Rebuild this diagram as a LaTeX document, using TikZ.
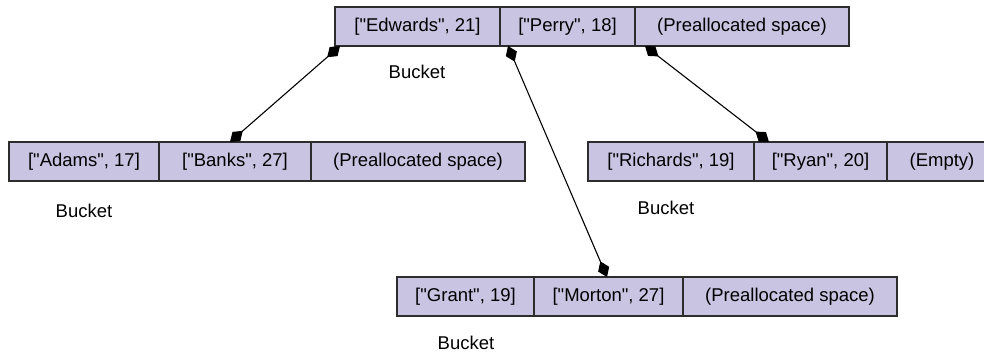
\documentclass[tikz,border=0pt]{standalone}
\usepackage{fontspec}
\setmainfont{Liberation Sans}[Ligatures=TeXOff]
\usetikzlibrary{arrows.meta, positioning}
\definecolor{slotfill}{RGB}{200,196,226}
\definecolor{slotline}{RGB}{45,45,45}

\begin{document}
\begin{tikzpicture}[x=1pt, y=-1pt,
  font=\fontsize{18.5}{22}\selectfont,
  slot/.style={draw=slotline, line width=1.3pt, fill=slotfill, minimum height=39pt,
    inner sep=0pt, outer sep=0pt, text height=1.25em, text depth=0.2em},
  link/.style={line width=1.1pt, {Diamond[length=17pt,width=12pt]}-{Diamond[length=17pt,width=12pt]}}]
  \useasboundingbox (0,0) rectangle (984,353);
  % root bucket
  \node[slot, minimum width=165pt, anchor=north west] (root1) at (335,7) {["Edwards", 21]};
  \node[slot, minimum width=135pt, right=0pt of root1] (root2) {["Perry", 18]};
  \node[slot, minimum width=214pt, right=0pt of root2] (root3) {(Preallocated space)};
  \node (rootlabel) at (417,72) {Bucket};
  % left bucket
  \node[slot, minimum width=150pt, anchor=north west] (left1) at (9,142) {["Adams", 17]};
  \node[slot, minimum width=152pt, right=0pt of left1] (left2) {["Banks", 27]};
  \node[slot, minimum width=214pt, right=0pt of left2] (left3) {(Preallocated space)};
  \node (leftlabel) at (84,211) {Bucket};
  % right bucket
  \node[slot, minimum width=166pt, anchor=north west] (right1) at (588,142) {["Richards", 19]};
  \node[slot, minimum width=133pt, right=0pt of right1] (right2) {["Ryan", 20]};
  \node[slot, minimum width=110pt, right=0pt of right2] (right3) {(Empty)};
  \node (rightlabel) at (666,208) {Bucket};
  % bottom bucket
  \node[slot, minimum width=137pt, anchor=north west] (bottom1) at (397,277) {["Grant", 19]};
  \node[slot, minimum width=149pt, right=0pt of bottom1] (bottom2) {["Morton", 27]};
  \node[slot, minimum width=214pt, right=0pt of bottom2] (bottom3) {(Preallocated space)};
  \node (bottomlabel) at (466,343) {Bucket};
  % links
  \draw[link] ([xshift=5pt]root1.south west) -- ([xshift=71pt]left2.north west);
  \draw[link] ([xshift=8pt]root2.south west) -- ([xshift=73pt]bottom2.north west);
  \draw[link] ([xshift=10pt]root3.south west) -- ([xshift=15pt]right2.north west);
\end{tikzpicture}
\end{document}
